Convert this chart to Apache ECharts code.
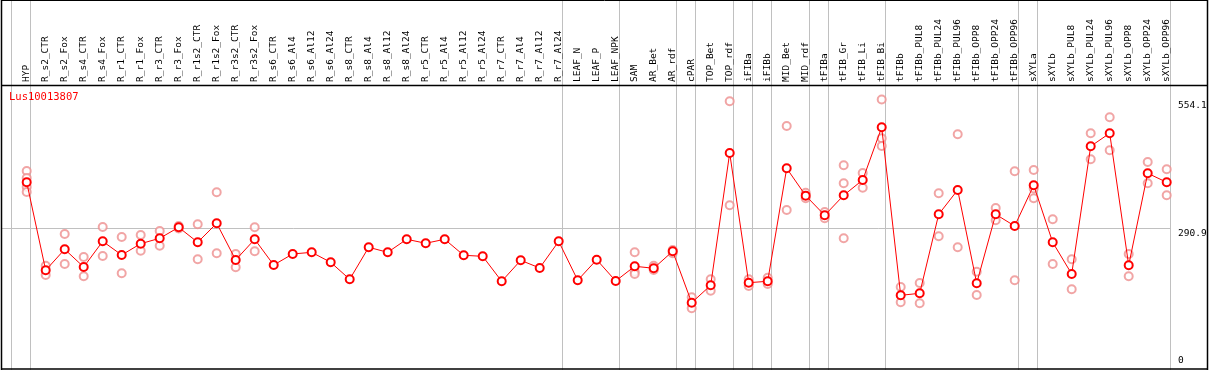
<!DOCTYPE html>
<html>
<head>
<meta charset="utf-8">
<script src="https://cdn.jsdelivr.net/npm/echarts@6/dist/echarts.min.js"></script>
<style>
html,body{margin:0;padding:0;background:#fff;}
#chart{width:1209px;height:370px;}
</style>
</head>
<body>
<div id="chart"></div>
<script>
const titleText = 'Lus10013807';
const categories = ['HYP','R_s2_CTR','R_s2_Fox','R_s4_CTR','R_s4_Fox','R_r1_CTR','R_r1_Fox','R_r3_CTR','R_r3_Fox','R_r1s2_CTR','R_r1s2_Fox','R_r3s2_CTR','R_r3s2_Fox','R_s6_CTR','R_s6_Al4','R_s6_Al12','R_s6_Al24','R_s8_CTR','R_s8_Al4','R_s8_Al12','R_s8_Al24','R_r5_CTR','R_r5_Al4','R_r5_Al12','R_r5_Al24','R_r7_CTR','R_r7_Al4','R_r7_Al12','R_r7_Al24','LEAF_N','LEAF_P','LEAF_NPK','SAM','AR_Bet','AR_rdf','cPAR','TOP_Bet','TOP_rdf','iFIBa','iFIBb','MID_Bet','MID_rdf','tFIBa','tFIB_Gr','tFIB_Li','tFIB_Bi','tFIBb','tFIBb_PUL8','tFIBb_PUL24','tFIBb_PUL96','tFIBb_OPP8','tFIBb_OPP24','tFIBb_OPP96','sXYLa','sXYLb','sXYLb_PUL8','sXYLb_PUL24','sXYLb_PUL96','sXYLb_OPP8','sXYLb_OPP24','sXYLb_OPP96'];
const means = [384.6,204.3,247.3,211.0,263.6,235.6,258.8,269.8,292.3,261.6,300.5,225.4,267.8,215.1,237.7,241.1,220.6,185.8,251.4,241.1,267.8,259.6,267.8,235.0,232.9,181.7,224.7,209.0,263.6,183.8,226.0,182.3,212.5,208.4,243.2,137.9,173.5,444.6,178.9,181.7,413.2,357.2,316.9,357.9,389.3,497.2,153.0,157.1,318.9,368.8,177.6,318.9,295.0,378.4,261.6,196.7,458.3,485.0,214.5,403.0,384.6];
const rep1 = [407.7,213.7,278.6,231.5,293.0,272.5,276.6,284.8,295.0,298.5,364.1,237.7,292.4,null,null,null,null,null,null,null,null,null,null,null,null,null,null,null,null,null,null,null,241.1,213.7,245.9,148.9,185.8,550.5,185.8,189.1,499.9,363.3,323.7,419.4,403.6,554.1,170.1,178.2,362.0,482.9,201.4,331.9,407.1,409.8,308.7,226.8,485.0,517.7,237.7,426.2,411.2];
const rep2 = [393.4,194.6,217.2,192.0,233.6,198.1,244.4,254.7,290.0,226.8,239.1,210.4,243.2,null,null,null,null,null,null,null,null,null,null,null,null,null,null,null,null,null,null,null,201.4,204.9,239.1,126.4,162.5,337.4,172.1,176.2,327.8,351.7,310.8,382.5,373.5,474.7,138.7,136.6,273.9,251.4,153.7,306.7,183.8,351.7,217.2,165.3,431.7,450.1,192.0,382.5,357.9];
const rep3 = [374.9,null,null,null,null,null,null,null,null,null,null,null,null,null,null,null,null,null,null,null,null,null,null,null,null,null,null,null,null,null,null,null,196.7,null,null,null,null,null,null,null,null,null,null,269.8,null,459.0,null,null,null,null,null,null,null,372.0,null,null,null,null,null,null,null];
const rep4 = [364.7,null,null,null,null,null,null,null,null,null,null,null,null,null,null,null,null,null,null,null,null,null,null,null,null,null,null,null,null,null,null,null,null,null,null,null,null,null,null,null,null,null,null,null,null,null,null,null,null,null,null,null,null,null,null,null,null,null,null,null,null];
const groupEnds = [-1,0,28,31,34,35,37,38,39,41,42,45,52,53,60];
const refLineValue = 290.9;
const yTickLabels = [554.1, 290.9, 0];

const SEP_OFFSET = 0.18;
const MONO = '"DejaVu Sans Mono", "Liberation Mono", monospace';
const chart = echarts.init(document.getElementById('chart'), null, {renderer: 'canvas'});

const repStyle = {
  type: 'scatter', xAxisIndex: 0, yAxisIndex: 0,
  symbol: 'emptyCircle', symbolSize: 8, z: 2, silent: true,
  itemStyle: {color: '#ee8f8f', borderColor: '#ee8f8f', borderWidth: 1.2}
};

const option = {
  animation: false,
  backgroundColor: '#ffffff',
  title: {
    text: titleText, left: 9, top: 92, padding: 0,
    textStyle: {color: '#ff0000', fontSize: 10.5, fontWeight: 'normal', fontFamily: MONO}
  },
  grid: {left: 17.2, right: 32.8, top: 0, bottom: 0, containLabel: false},
  xAxis: [{
    type: 'category', data: categories, position: 'top', offset: -85,
    boundaryGap: true,
    axisLine: {show: false}, axisTick: {show: false}, splitLine: {show: false},
    axisLabel: {interval: 0, rotate: 90, margin: 3, color: '#000', fontSize: 9.5, fontFamily: MONO}
  }, {
    type: 'value', min: -0.5, max: 60.5, show: false
  }],
  yAxis: [{
    type: 'value', min: 0, max: 758, show: false
  }],
  series: [
    Object.assign({name: 'rep1', data: rep1}, repStyle),
    Object.assign({name: 'rep2', data: rep2}, repStyle),
    Object.assign({name: 'rep3', data: rep3}, repStyle),
    Object.assign({name: 'rep4', data: rep4}, repStyle),
    {
      name: 'mean', type: 'line', xAxisIndex: 0, yAxisIndex: 0, data: means, z: 5,
      symbol: 'emptyCircle', symbolSize: 8, showSymbol: true,
      lineStyle: {color: '#ff0000', width: 1},
      itemStyle: {color: '#ff0000', borderColor: '#ff0000', borderWidth: 1.6}
    }
  ]
};
chart.setOption(option);

const xPix = v => chart.convertToPixel({xAxisIndex: 1}, v);
const yPix = v => chart.convertToPixel({yAxisIndex: 0}, v);

const sepGraphics = groupEnds.map(g => {
  const x = Math.round(xPix(g + SEP_OFFSET)) + 0.5;
  return {type: 'line', silent: true, z: -1, shape: {x1: x, y1: 0, x2: x, y2: 370}, style: {stroke: '#c0c0c0', lineWidth: 1}};
});
const refY = Math.round(yPix(refLineValue)) + 0.5;
const refGraphic = {type: 'line', silent: true, z: -1,
  shape: {x1: 1.5, y1: refY, x2: Math.round(xPix(60 + SEP_OFFSET)) + 0.5, y2: refY},
  style: {stroke: '#c0c0c0', lineWidth: 1}};

const labelGraphics = yTickLabels.map(v => {
  const py = yPix(v);
  return {
    type: 'text', left: 1178, top: Math.min(py + 1, 356), silent: true,
    style: {text: String(v), fill: '#000', font: '9.5px ' + MONO}
  };
});
chart.setOption({
  graphic: sepGraphics.concat([refGraphic]).concat([
    {type: 'line', silent: true, shape: {x1: 1.5, y1: 0.5, x2: 1207.5, y2: 0.5}, style: {stroke: '#000', lineWidth: 1}},
    {type: 'line', silent: true, shape: {x1: 1.5, y1: 85.5, x2: 1207.5, y2: 85.5}, style: {stroke: '#000', lineWidth: 1.5}},
    {type: 'line', silent: true, shape: {x1: 1.5, y1: 369, x2: 1207.5, y2: 369}, style: {stroke: '#000', lineWidth: 1.5}},
    {type: 'line', silent: true, shape: {x1: 1.5, y1: 0, x2: 1.5, y2: 370}, style: {stroke: '#000', lineWidth: 1.5}},
    {type: 'line', silent: true, shape: {x1: 1207.5, y1: 0, x2: 1207.5, y2: 370}, style: {stroke: '#000', lineWidth: 1.5}}
  ]).concat(labelGraphics)
});
</script>
</body>
</html>
